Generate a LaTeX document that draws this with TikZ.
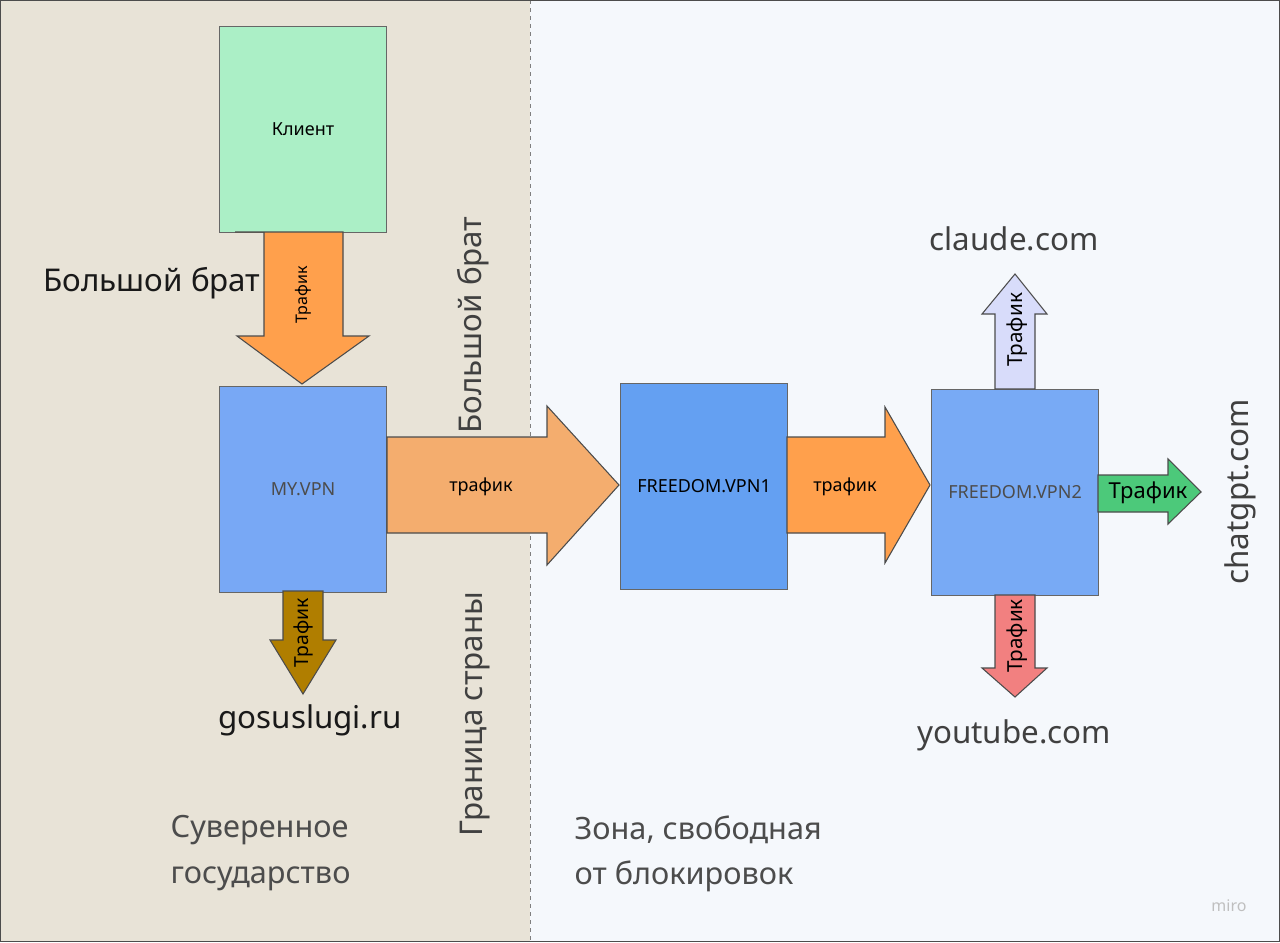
\documentclass[tikz,border=0pt]{standalone}
\usepackage{fontspec}
\setmainfont{Noto Sans}
\begin{document}
\begin{tikzpicture}[x=0.75pt,y=-0.75pt,
  box/.style={draw=black!60,line width=0.8pt,minimum width=167*0.75pt,minimum height=206*0.75pt,inner sep=0pt,anchor=north west,font=\fontsize{13.5}{15}\selectfont},
  arr/.style={draw=black!70,line width=0.8pt},
  lbl/.style={font=\fontsize{23.5}{28}\selectfont,text=black!90},
  zone/.style={font=\fontsize{23}{34}\selectfont,text=black!70,align=left,anchor=north west}]
\useasboundingbox (0,0) rectangle (1280,942);
\fill[fill={rgb,255:red,232;green,227;blue,215}] (0,0) rectangle (530,942);
\fill[fill={rgb,255:red,245;green,248;blue,252}] (530,0) rectangle (1280,942);
\draw[black!50,dashed,line width=0.7pt] (530,0) -- (530,942);
\draw[black!70,line width=1pt] (0.5,0.5) rectangle (1279.5,941.5);
% boxes
\node[box,fill={rgb,255:red,171;green,239;blue,198}] (cl) at (219,26) {Клиент};
\node[box,fill={rgb,255:red,120;green,168;blue,245},text=black!70] (my) at (219,386) {MY.VPN};
\node[box,fill={rgb,255:red,100;green,160;blue,242}] (f1) at (620,383) {FREEDOM.VPN1};
\node[box,fill={rgb,255:red,120;green,170;blue,245},text=black!70] (f2) at (931,389) {FREEDOM.VPN2};
% arrows
\draw[arr,fill={rgb,255:red,255;green,160;blue,76}] (235,232)--(343,232)--(343,336)--(369,336)--(302,384)--(237,336)--(264,336)--(264,232)--cycle;
\node[rotate=90,font=\fontsize{12}{13}\selectfont] (t1) at (303,295) {Трафик};
\draw[arr,fill={rgb,255:red,244;green,173;blue,110}] (387,437)--(547,437)--(547,406)--(619,485)--(547,565)--(547,533)--(387,533)--cycle;
\node[font=\fontsize{13.5}{15}\selectfont] (t2) at (481,487) {трафик};
\draw[arr,fill={rgb,255:red,176;green,126;blue,0}] (283,591)--(323,591)--(323,640)--(336,640)--(303,694)--(270,640)--(283,640)--cycle;
\node[rotate=90,font=\fontsize{14.5}{16}\selectfont] (t3) at (303,633) {Трафик};
\draw[arr,fill={rgb,255:red,255;green,160;blue,76}] (787,437)--(885,437)--(885,407)--(930,485)--(885,563)--(885,533)--(787,533)--cycle;
\node[font=\fontsize{13.5}{15}\selectfont] (t4) at (845,487) {трафик};
\draw[arr,fill={rgb,255:red,216;green,220;blue,250}] (995,389)--(995,314)--(982,314)--(1015,274)--(1047,314)--(1035,314)--(1035,389)--cycle;
\node[rotate=90,font=\fontsize{15.5}{17}\selectfont] (t5) at (1017,330) {Трафик};
\draw[arr,fill={rgb,255:red,76;green,201;blue,122}] (1098,475)--(1168,475)--(1168,459)--(1201,492)--(1168,524)--(1168,512)--(1098,512)--cycle;
\node[font=\fontsize{16.5}{18}\selectfont] (t6) at (1148,493) {Трафик};
\draw[arr,fill={rgb,255:red,242;green,128;blue,128}] (995,595)--(1035,595)--(1035,668)--(1047,668)--(1015,697)--(982,668)--(995,668)--cycle;
\node[rotate=90,font=\fontsize{15.5}{17}\selectfont] (t7) at (1017,636) {Трафик};
% labels
\node[lbl] (bb1) at (152,283) {Большой брат};
\node[lbl,rotate=90,text=black!75] (bb2) at (473,325) {Большой брат};
\node[lbl,rotate=90,text=black!75] (gr) at (475,714) {Граница страны};
\node[lbl] (gos) at (310,720) {gosuslugi.ru};
\node[lbl,text=black!75] (cla) at (1014,239) {claude.com};
\node[lbl,text=black!75] (yt) at (1014,735) {youtube.com};
\node[lbl,rotate=90,text=black!75] (gpt) at (1240,492) {chatgpt.com};
\node[zone] (z1) at (166,811) {Суверенное\\государство};
\node[zone] (z2) at (570,811) {Зона, свободная\\от блокировок};
\node[font=\fontsize{12}{14}\selectfont\bfseries,text=black!25] (miro) at (1229,906) {miro};
\end{tikzpicture}
\end{document}
